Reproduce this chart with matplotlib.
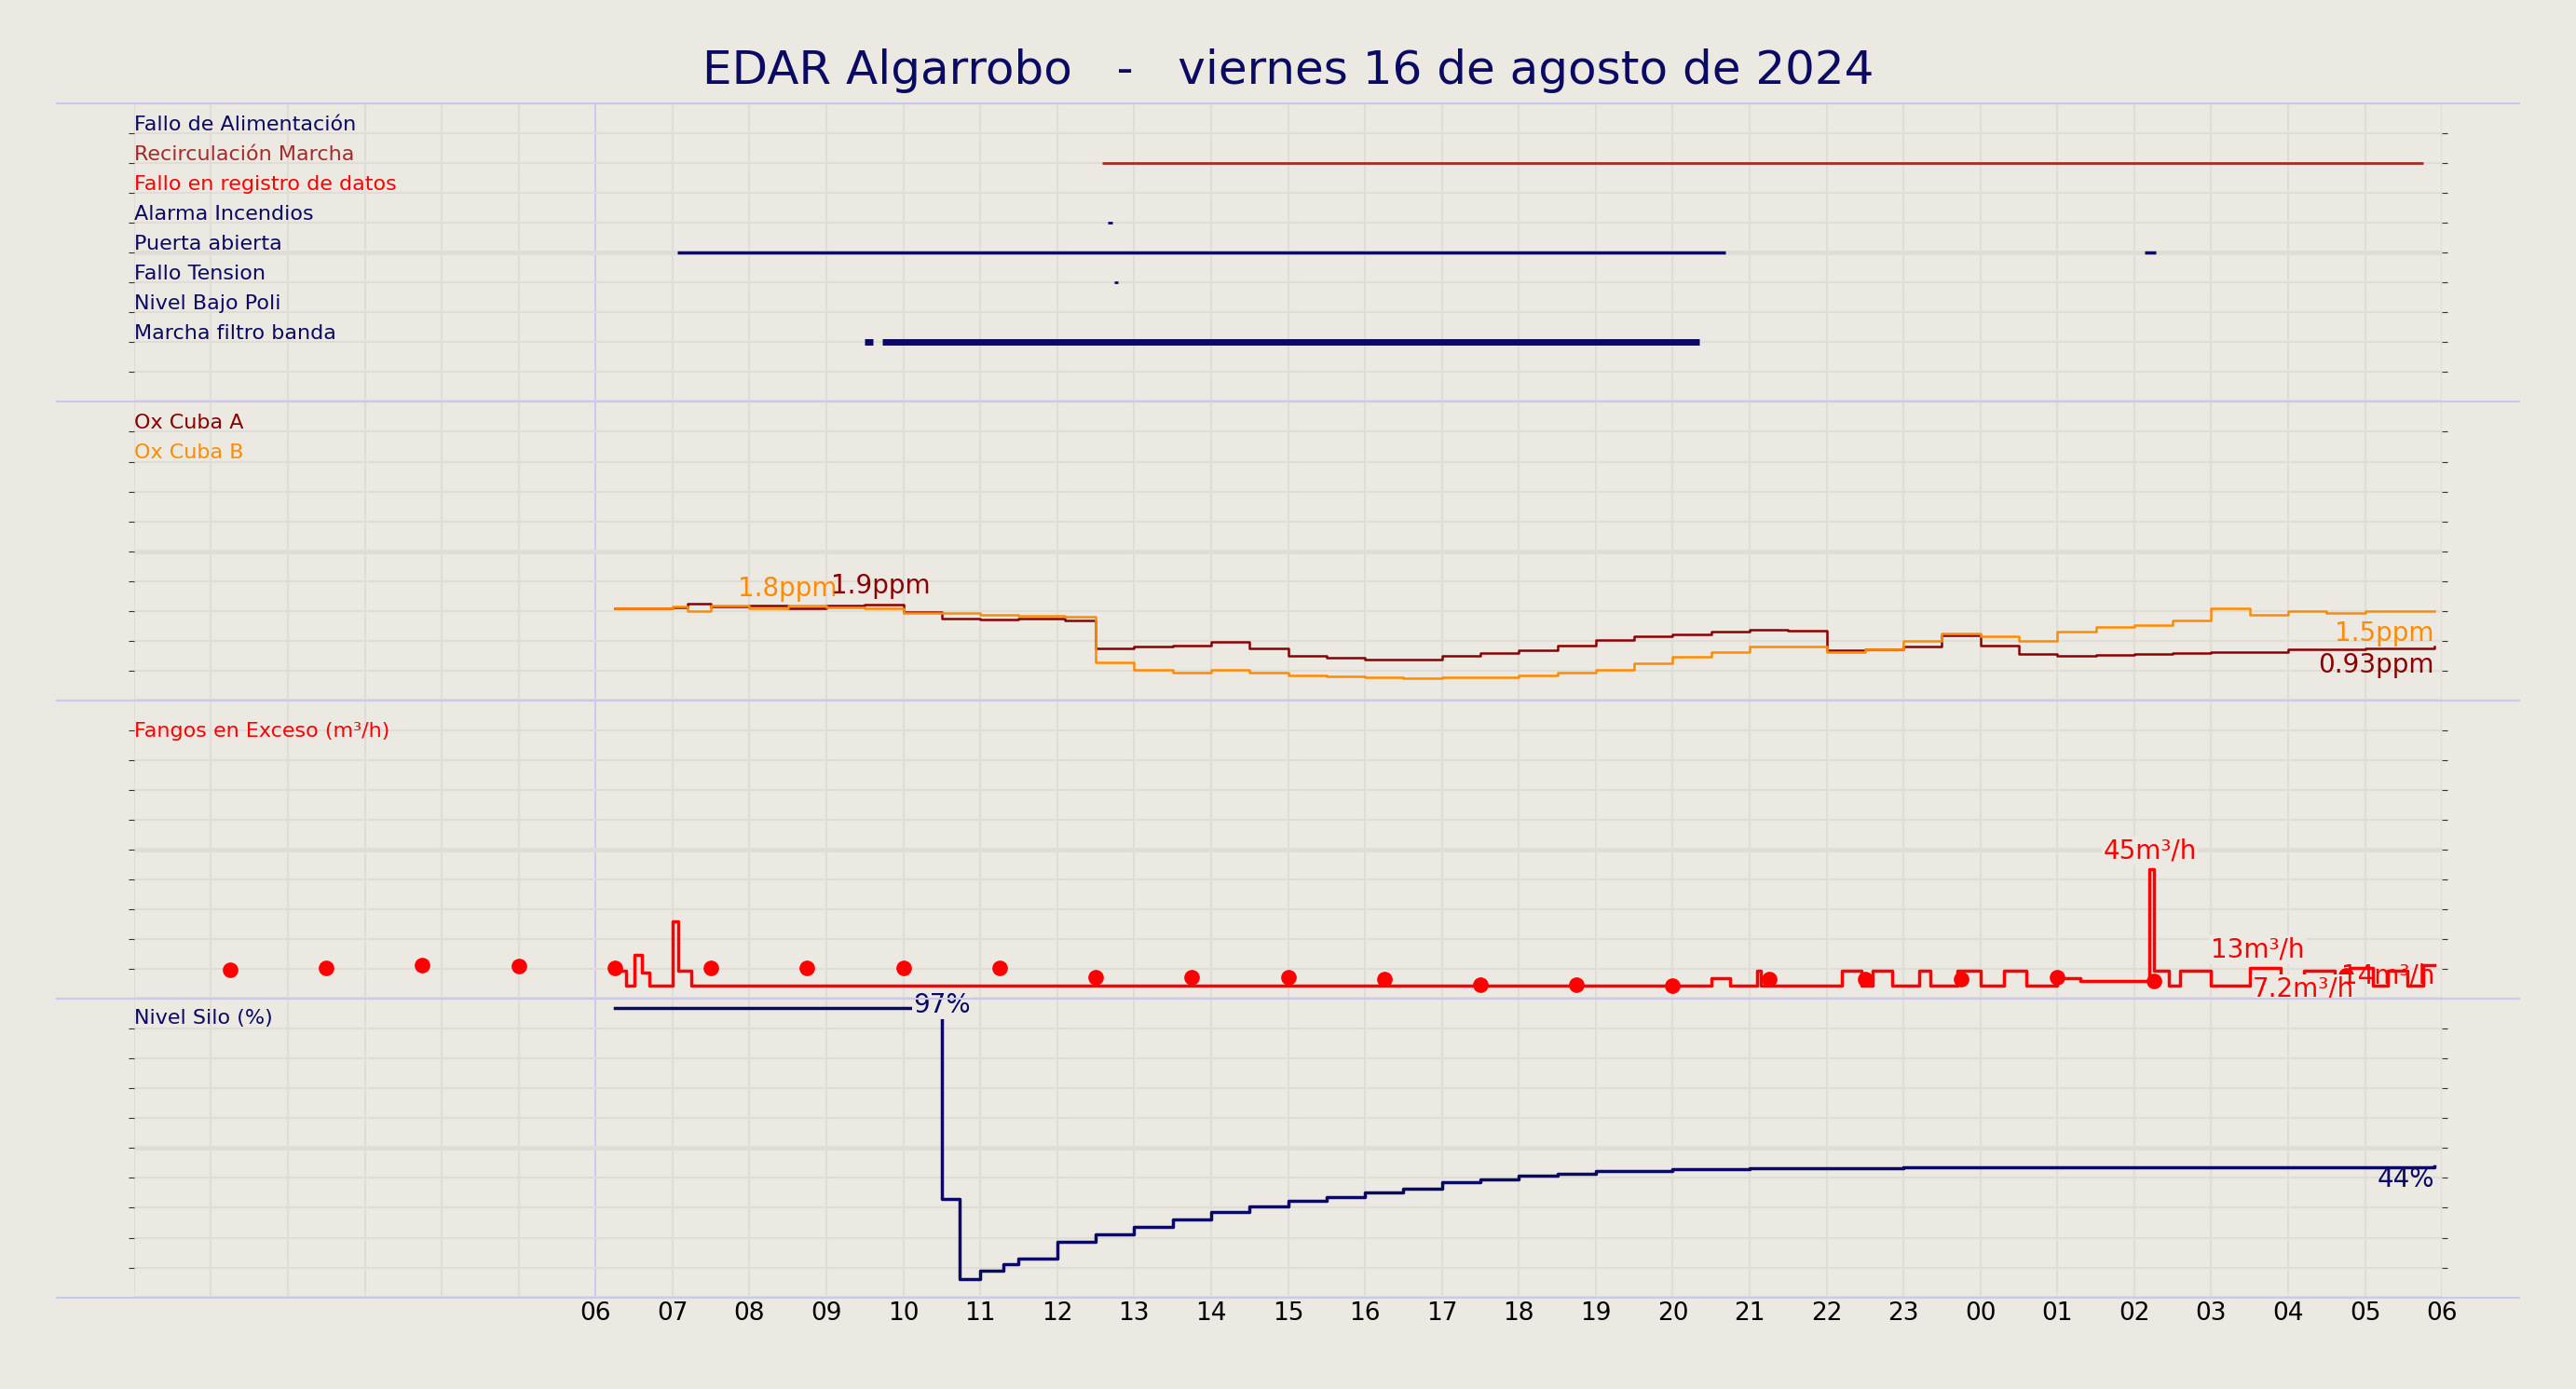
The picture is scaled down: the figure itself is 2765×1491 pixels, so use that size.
import numpy as np
import matplotlib.pyplot as plt
from matplotlib.lines import Line2D

BG = '#ece8e2'
NAVY = '#0a0a64'

# --- datos ---
titulo = "EDAR Algarrobo   -   viernes 16 de agosto de 2024"
horas_ticks = list(range(6, 31))
etiquetas_ticks = ['%02d' % (h % 24) for h in horas_ticks]

eventos_nombres = ["Fallo de Alimentación", "Recirculación Marcha", "Fallo en registro de datos",
                   "Alarma Incendios", "Puerta abierta", "Fallo Tension", "Nivel Bajo Poli",
                   "Marcha filtro banda"]
eventos_colores = [NAVY, '#a52a2a', 'red', NAVY, NAVY, NAVY, NAVY, NAVY]
# (fila, inicio, fin, grosor)
eventos_tramos = [
    (1, 12.59, 29.76, 2),
    (3, 12.66, 12.72, 2),
    (4, 7.06, 20.69, 2.5),
    (4, 26.13, 26.28, 2.5),
    (5, 12.74, 12.79, 2),
    (7, 9.50, 9.60, 5),
    (7, 9.73, 20.35, 5),
]

ox_t = [6.25, 7.0, 7.2, 7.5, 8.0, 8.5, 9.0, 9.5, 10.0, 10.5, 11.0, 11.5, 12.1, 12.5, 13.0, 13.5,
        14.0, 14.5, 15.0, 15.5, 16.0, 16.5, 17.0, 17.5, 18.0, 18.5, 19.0, 19.5, 20.0, 20.5,
        21.0, 21.5, 22.0, 22.5, 23.0, 23.5, 24.0, 24.5, 25.0, 25.5, 26.0, 26.5, 27.0, 27.5,
        28.0, 28.5, 29.0, 29.9]
ox_a = [1.85, 1.87, 1.95, 1.88, 1.90, 1.86, 1.90, 1.93, 1.78, 1.65, 1.63, 1.65, 1.60, 1.05, 1.08, 1.10,
        1.18, 1.05, 0.90, 0.85, 0.82, 0.82, 0.90, 0.95, 1.00, 1.10, 1.22, 1.28, 1.32, 1.38,
        1.42, 1.40, 1.00, 1.02, 1.08, 1.30, 1.10, 0.93, 0.90, 0.92, 0.94, 0.95, 0.98, 0.98,
        1.02, 1.02, 1.05, 1.08]
ox_b = [1.85, 1.88, 1.80, 1.90, 1.86, 1.90, 1.87, 1.85, 1.75, 1.75, 1.72, 1.70, 1.68, 0.76, 0.62, 0.55,
        0.62, 0.55, 0.50, 0.48, 0.47, 0.45, 0.47, 0.47, 0.50, 0.55, 0.62, 0.75, 0.88, 0.98,
        1.08, 1.08, 0.98, 1.02, 1.20, 1.35, 1.28, 1.20, 1.38, 1.48, 1.52, 1.60, 1.85, 1.72,
        1.80, 1.75, 1.80, 1.80]

fangos_t = [6.25, 6.4, 6.5, 6.6, 6.7, 6.85, 7.0, 7.08, 7.25, 20.5, 20.75, 21.1, 21.15, 21.3, 22.2,
            22.45, 22.6, 22.85, 23.2, 23.35, 23.7, 24.0, 24.3, 24.6, 25.0, 25.3, 26.2, 26.25,
            26.45, 26.6, 27.0, 27.5, 27.9, 28.2, 28.6, 28.8, 29.1, 29.3, 29.55, 29.75, 29.9]
fangos_v = [6, 0, 12, 5, 0, 0, 25, 6, 0, 3, 0, 6, 0, 0, 6, 0, 6, 0, 6, 0, 6, 0, 6, 0, 3, 2, 45,
            6, 0, 6, 0, 7, 0, 6, 0, 7, 0, 6, 0, 8, 8]
puntos_t = [1.25, 2.5, 3.75, 5.0, 6.25, 7.5, 8.75, 10.0, 11.25, 12.5, 13.75, 15.0, 16.25, 17.5,
            18.75, 20.0, 21.25, 22.5, 23.75, 25.0, 26.25, 28.75]
puntos_v = [6.3, 7, 8, 7.5, 7, 7, 7, 7, 7, 3.2, 3.2, 3.2, 2.5, 0.6, 0.3, 0, 2.5, 2.5, 2.5, 3.2, 2, 4]

silo_t = [6.25, 10.1, 10.45, 10.5, 10.73, 11.0, 11.3, 11.5, 12.0, 12.5, 13.0, 13.5, 14.0, 14.5, 15.0,
          15.5, 16.0, 16.5, 17.0, 17.5, 18.0, 18.5, 19.0, 20.0, 21.0, 23.0, 26.0, 29.9]
silo_v = [97, 97, 97, 33, 6, 9, 11, 13, 18.7, 21, 23.6, 26, 28.6, 30.5, 32.4, 33.7, 35, 36.5,
          38.5, 39.5, 40.7, 41.5, 42.3, 43, 43.4, 43.5, 43.5, 44]

fig = plt.figure(figsize=(27.65, 14.91), dpi=100, facecolor=BG)
bottom, top = 0.066, 0.9255
h = (top - bottom) / 4
axes = []
for i in range(4):
    ax = fig.add_axes([0.052, top - (i + 1) * h, 0.896, h], facecolor=BG)
    axes.append(ax)

for k, ax in enumerate(axes):
    ax.set_xlim(0, 30)
    for s in ax.spines.values():
        s.set_visible(False)
    for x in range(0, 31):
        ax.axvline(x, color='#e0dcd8', lw=1.5, zorder=0)
    ax.axvline(6, color='#c8c8f0', lw=1.2, zorder=0)
    ax.tick_params(axis='y', left=True, right=True, labelleft=False, length=4, color='#333333')
    ax.tick_params(axis='x', length=0)
    if k < 3:
        ax.set_xticks([])
ax4 = axes[3]
ax4.set_xticks(horas_ticks)
ax4.set_xticklabels(etiquetas_ticks, fontsize=19)

def grid_h(ax, lo, hi):
    ticks = np.linspace(lo, hi, 11)
    ax.set_ylim(lo, hi)
    ax.set_yticks(ticks[1:-1])
    for j, t in enumerate(ticks):
        ax.axhline(t, color='#e0dcd8', lw=3.5 if j in (0, 5) else 1.5, zorder=0)

# panel 1: eventos
ax = axes[0]
grid_h(ax, 0, 10)
for i, (n, c) in enumerate(zip(eventos_nombres, eventos_colores)):
    ax.text(0, 9 - i + 0.3, n, color=c, fontsize=16, va='center', ha='left')
for fila, a, b, lw in eventos_tramos:
    ax.plot([a, b], [9 - fila, 9 - fila], color=eventos_colores[fila], lw=lw,
            solid_capstyle='butt')

# panel 2: oxigeno
ax = axes[1]
grid_h(ax, 0, 6)
ax.text(0, 5.58, "Ox Cuba A", color='#8b0000', fontsize=16, va='center')
ax.text(0, 4.98, "Ox Cuba B", color='#ff8c00', fontsize=16, va='center')
ax.step(ox_t, ox_a, where='post', color='#8b0000', lw=1.8)
ax.step(ox_t, ox_b, where='post', color='#ff8c00', lw=1.8)
ax.text(8.5, 2.1, "1.8ppm", color='#ff8c00', fontsize=20, ha='center')
ax.text(9.7, 2.15, "1.9ppm", color='#8b0000', fontsize=20, ha='center')
ax.text(29.9, 1.2, "1.5ppm", color='#ff8c00', fontsize=20, ha='right')
ax.text(29.9, 0.55, "0.93ppm", color='#8b0000', fontsize=20, ha='right')

# panel 3: fangos
ax = axes[2]
grid_h(ax, -5, 110)
ax.text(0, 98, "Fangos en Exceso (m³/h)", color='red', fontsize=16, va='center')
ax.step(fangos_t, fangos_v, where='post', color='red', lw=2.5)
ax.plot(puntos_t, puntos_v, 'o', color='red', ms=11)
bb = dict(facecolor=BG, edgecolor='none', pad=1)
ax.text(26.2, 49, "45m³/h", color='red', fontsize=20, ha='center', bbox=bb)
ax.text(27.6, 11, "13m³/h", color='red', fontsize=20, ha='center', bbox=bb)
ax.text(28.2, -4, "7.2m³/h", color='red', fontsize=20, ha='center', bbox=bb)
ax.text(29.9, 1, "14m³/h", color='red', fontsize=20, ha='right')

# panel 4: silo
ax = axes[3]
grid_h(ax, 0, 100)
ax.text(0, 93.5, "Nivel Silo (%)", color=NAVY, fontsize=16, va='center')
ax.step(silo_t, silo_v, where='post', color=NAVY, lw=2.5)
ax.text(10.5, 98, "97%", color=NAVY, fontsize=20, ha='center', va='center', bbox=bb)
ax.text(29.9, 37, "44%", color=NAVY, fontsize=20, ha='right')

# separadores
for i in range(5):
    y = top - i * h
    fig.add_artist(Line2D([0.022, 0.978], [y, y], color='#c8c8f0', lw=1.5,
                          transform=fig.transFigure))

fig.suptitle(titulo, y=0.965, fontsize=36, color=NAVY)
fig.savefig('out.png', dpi=100, facecolor=BG)
